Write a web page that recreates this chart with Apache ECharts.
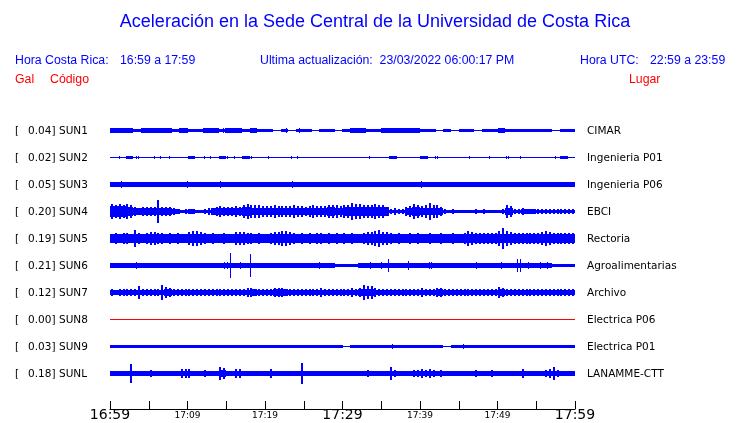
<!DOCTYPE html>
<html><head><meta charset="utf-8">
<script src="https://cdn.jsdelivr.net/npm/echarts@6/dist/echarts.min.js"></script>
<style>html,body{margin:0;padding:0;background:#fff}#c{width:740px;height:423px}</style>
</head><body><div id="c"></div>
<script>
// ---- data ----
const stations = ['SUN1','SUN2','SUN3','SUN4','SUN5','SUN6','SUN7','SUN8','SUN9','SUNL'];
const places = ['CIMAR','Ingenieria P01','Ingenieria P06','EBCI','Rectoria','Agroalimentarias','Archivo','Electrica P06','Electrica P01','LANAMME-CTT'];
const peakGal = ['0.04','0.02','0.05','0.20','0.19','0.21','0.12','0.00','0.03','0.18'];
const timeLabels = {0:'16:59',10:'17:09',20:'17:19',30:'17:29',40:'17:39',50:'17:49',60:'17:59'};

// solid core half-amplitude (Gal) per minute, minute 0 = 16:59
const baseSUN1 = [.03,.03,.03,.015,.03,.03,.028,.028,.025,.03,.018,.025,.03,.03,.025,.032,.028,.025,.028,.025,
  .012,.008,.018,.008,.018,.01,.008,.018,.015,.008,.018,.03,.03,.018,.02,.03,.032,.03,.028,.03,
  .025,.015,.008,.015,.008,.012,.015,.008,.012,.025,.028,.025,.018,.018,.02,.015,.018,.008,.012,.025];
const baseSUN2 = [.004,.004,.015,.004,.004,.004,.004,.004,.004,.004,.012,.004,.004,.004,.018,.004,.004,.015,.004,.004,
  .004,.004,.004,.004,.004,.004,.004,.004,.004,.004,.004,.004,.004,.004,.004,.004,.012,.004,.004,.004,
  .015,.004,.004,.004,.004,.004,.004,.004,.004,.004,.004,.004,.004,.004,.004,.004,.004,.004,.015,.004];
const baseSUN3 = [.03,.03,.03,.032,.03,.03,.03,.03,.03,.03,.032,.03,.03,.03,.032,.03,.03,.03,.03,.03,
  .03,.03,.03,.03,.03,.03,.03,.03,.03,.03,.03,.03,.03,.03,.03,.03,.03,.03,.03,.03,
  .032,.03,.03,.03,.03,.03,.03,.03,.03,.03,.03,.03,.03,.03,.03,.03,.03,.03,.03,.03];
const baseSUN4 = [.085,.09,.08,.055,.05,.055,.05,.05,.045,.022,.03,.022,.022,.05,.055,.06,.055,.065,.06,.06,
  .06,.055,.06,.06,.06,.055,.06,.06,.065,.06,.07,.08,.075,.07,.07,.065,.025,.025,.055,.065,
  .06,.06,.05,.022,.022,.022,.022,.022,.022,.022,.022,.055,.025,.03,.03,.025,.025,.025,.025,.025];
const baseSUN5 = [.065,.065,.065,.065,.065,.065,.065,.065,.065,.065,.08,.08,.065,.065,.065,.065,.075,.075,.065,.065,
  .065,.08,.08,.065,.065,.065,.065,.065,.065,.065,.065,.065,.065,.08,.08,.08,.065,.065,.065,.065,
  .065,.065,.065,.065,.065,.065,.08,.065,.065,.065,.08,.08,.065,.065,.065,.065,.08,.065,.065,.065];
const baseSUN6 = [.03,.03,.03,.03,.03,.03,.03,.03,.03,.03,.03,.03,.03,.03,.03,.033,.03,.03,.03,.03,
  .03,.03,.03,.03,.03,.03,.03,.03,.03,.018,.022,.022,.03,.03,.03,.03,.03,.03,.03,.03,
  .03,.03,.03,.03,.03,.03,.03,.03,.03,.03,.03,.03,.03,.03,.03,.03,.03,.018,.025,.025];
const baseSUN7 = [.042,.042,.042,.042,.045,.045,.042,.06,.042,.042,.042,.042,.042,.042,.042,.042,.042,.045,.05,.042,
  .042,.055,.05,.042,.042,.042,.042,.045,.042,.042,.045,.045,.06,.06,.045,.042,.042,.042,.042,.042,
  .045,.042,.05,.042,.042,.042,.042,.042,.042,.042,.05,.042,.042,.042,.042,.042,.042,.042,.042,.042];
const baseSUN8 = [0,0,0,0,0,0,0,0,0,0,0,0,0,0,0,0,0,0,0,0,0,0,0,0,0,0,0,0,0,0,
  0,0,0,0,0,0,0,0,0,0,0,0,0,0,0,0,0,0,0,0,0,0,0,0,0,0,0,0,0,0];
const baseSUN9 = [.025,.025,.025,.025,.025,.025,.025,.025,.025,.025,.025,.025,.025,.025,.025,.025,.025,.025,.025,.025,
  .025,.02,.015,.02,.012,.02,.015,.02,.02,.012,.008,.02,.022,.02,.022,.022,.02,.015,.022,.02,
  .022,.02,.012,.008,.02,.022,.02,.022,.015,.02,.012,.022,.02,.015,.02,.012,.02,.022,.02,.022];
const baseSUNL = [.03,.03,.03,.03,.03,.032,.03,.03,.03,.045,.04,.03,.032,.03,.05,.03,.045,.03,.03,.03,
  .03,.03,.03,.03,.03,.03,.03,.03,.03,.03,.03,.03,.03,.035,.03,.03,.035,.03,.03,.035,
  .045,.035,.03,.03,.03,.03,.03,.03,.03,.03,.03,.03,.03,.035,.03,.03,.035,.045,.03,.03];

// peak excursion (Gal) in each half minute
const fringeSUN4 = [.12,.1,.13,.11,.13,.1,.07,.06,.08,.065,.07,.065,.2,.07,.07,.065,.06,.035,.025,.03,
  .04,.04,.025,.025,.03,.06,.06,.07,.09,.075,.08,.07,.09,.08,.1,.13,.11,.1,.1,.09,
  .09,.085,.1,.09,.085,.09,.09,.1,.09,.085,.08,.09,.1,.09,.085,.09,.1,.11,.11,.09,
  .1,.11,.15,.12,.13,.11,.11,.1,.12,.1,.1,.07,.035,.05,.03,.04,.08,.09,.12,.1,
  .09,.1,.14,.1,.1,.07,.03,.025,.04,.025,.025,.025,.025,.025,.035,.025,.04,.025,.025,.025,
  .025,.03,.1,.09,.04,.03,.05,.045,.045,.04,.03,.035,.03,.04,.04,.03,.03,.03,.03,.03];
const fringeSUN5 = [.08,.085,.08,.09,.085,.08,.15,.09,.08,.085,.11,.1,.09,.085,.08,.085,.08,.085,.075,.08,
  .1,.13,.12,.1,.09,.08,.085,.08,.08,.085,.075,.08,.1,.11,.1,.09,.085,.08,.085,.08,
  .08,.085,.1,.11,.13,.12,.1,.085,.08,.085,.08,.085,.08,.085,.09,.08,.085,.08,.085,.08,
  .085,.08,.085,.08,.08,.085,.1,.11,.12,.15,.11,.1,.085,.08,.085,.08,.08,.085,.08,.085,
  .08,.08,.085,.08,.08,.085,.08,.08,.085,.08,.08,.085,.13,.11,.09,.085,.085,.085,.085,.09,
  .12,.19,.13,.1,.085,.09,.085,.085,.09,.085,.085,.11,.13,.11,.095,.085,.09,.085,.085,.085];
const fringeSUN7 = [.05,.045,.055,.05,.05,.05,.055,.11,.06,.055,.06,.055,.055,.12,.09,.07,.055,.05,.05,.05,
  .05,.055,.055,.05,.05,.05,.05,.055,.05,.05,.05,.05,.055,.05,.06,.065,.065,.06,.055,.05,
  .05,.055,.075,.07,.065,.055,.05,.05,.055,.05,.05,.05,.05,.055,.07,.06,.05,.05,.05,.055,
  .06,.055,.065,.06,.075,.12,.1,.1,.07,.06,.055,.055,.055,.05,.06,.055,.055,.05,.05,.055,
  .065,.06,.055,.05,.065,.07,.055,.05,.05,.05,.055,.05,.05,.05,.055,.05,.05,.05,.05,.055,
  .09,.065,.05,.05,.055,.05,.05,.05,.055,.05,.05,.05,.05,.055,.055,.05,.05,.05,.055,.05];
const fringeSUNL = [.03,.035,.04,.035,.035,.17,.04,.035,.04,.035,.055,.04,.035,.035,.04,.045,.035,.035,.08,.07,
  .07,.045,.035,.04,.055,.04,.035,.04,.1,.09,.04,.035,.07,.07,.035,.035,.035,.04,.035,.04,
  .04,.065,.035,.035,.035,.035,.035,.04,.035,.18,.035,.035,.045,.035,.035,.035,.045,.035,.035,.035,
  .035,.035,.035,.04,.035,.04,.05,.045,.035,.035,.04,.035,.1,.05,.04,.035,.035,.035,.05,.055,
  .07,.06,.08,.05,.04,.055,.035,.04,.035,.035,.04,.035,.04,.045,.05,.04,.04,.045,.05,.04,
  .04,.035,.04,.035,.035,.04,.065,.045,.035,.035,.04,.035,.055,.065,.11,.06,.04,.035,.035,.035];

// isolated peaks: [minute, half-amplitude Gal]
const spikesSUN1 = [[9.0,.045],[14.6,.04],[14.9,.045],[15.2,.04],[36.2,.04],[22.8,.03],[24.4,.03],[27.5,.025],[30.0,.025],[33.8,.025],[45.6,.02],[53.8,.025],[55.8,.025],[59.3,.025]];
const spikesSUN2 = [[1.2,.015],[3.4,.015],[3.7,.012],[5.8,.01],[6.5,.01],[7.7,.015],[12.2,.012],[13.0,.012],[15.2,.012],[16.0,.015],[18.2,.012],[20.5,.012],[23.4,.012],[24.2,.01],[33.5,.015],[42.0,.012],[42.3,.015],[46.4,.012],[49.0,.01],[51.1,.012],[51.4,.015],[53.0,.01],[57.5,.01],[58.1,.012],[59.0,.02]];
const spikesSUN3 = [[1.5,.05],[2.5,.045],[3.4,.045],[7.0,.04],[10.0,.05],[12.2,.04],[12.6,.045],[13.5,.04],[14.2,.05],[16.0,.04],[17.4,.04],[20.5,.04],[23.6,.05],[32.3,.045],[33.5,.045],[40.2,.05],[41.5,.04],[42.3,.045],[46.4,.04],[49.0,.045],[52.0,.045],[58.2,.04]];
const spikesSUN4 = [];
const spikesSUN5 = [];
const spikesSUN6 = [[3.4,.05],[5.8,.045],[7.0,.045],[7.3,.045],[9.5,.04],[10.0,.045],[11.0,.04],[12.4,.045],[14.8,.06],[15.1,.06],[15.5,.21],[16.8,.05],[18.1,.2],[19.5,.045],[22.0,.045],[23.4,.045],[24.3,.045],[26.5,.045],[27.0,.05],[28.0,.045],[33.6,.05],[35.0,.06],[35.9,.1],[38.5,.065],[41.2,.06],[41.5,.06],[47.3,.05],[50.5,.05],[52.6,.1],[53.0,.1],[54.0,.05],[55.5,.05],[56.4,.05]];
const spikesSUN7 = [];
const spikesSUN8 = [];
const spikesSUN9 = [[45.6,.03],[36.5,.028]];
const spikesSUNL = [];

const bases = [baseSUN1,baseSUN2,baseSUN3,baseSUN4,baseSUN5,baseSUN6,baseSUN7,baseSUN8,baseSUN9,baseSUNL];
const fringes = [[],[],[],fringeSUN4,fringeSUN5,[],fringeSUN7,[],[],fringeSUNL];
const spikes = [spikesSUN1,spikesSUN2,spikesSUN3,spikesSUN4,spikesSUN5,spikesSUN6,spikesSUN7,spikesSUN8,spikesSUN9,spikesSUNL];

// ---- drawing ----
const GAL_PER_SLOT = 0.49;
const K = 1 / GAL_PER_SLOT;
const chart = echarts.init(document.getElementById('c'), null, {renderer: 'canvas'});

function renderBand(params, api) {
  const m = api.value(0), a = api.value(1), c = api.value(2);
  const pL = api.coord([m, c]), pR = api.coord([m + 1, c]);
  const ah = api.size([0, a * K])[1];
  const x0 = Math.round(pL[0]), x1 = Math.round(pR[0]);
  const top = Math.round(pL[1] - 0.5 - ah), bot = Math.round(pL[1] + 0.5 + ah);
  return {type: 'rect', shape: {x: x0, y: top, width: x1 - x0, height: Math.max(1, bot - top)},
    style: {fill: api.visual('color')}};
}
function makeSpikeRenderer(w) {
  return function (params, api) {
    const m = api.value(0), a = api.value(1), c = api.value(2);
    const p = api.coord([m, c]);
    const ah = api.size([0, a * K])[1];
    const top = Math.round(p[1] - 0.5 - ah), bot = Math.round(p[1] + 0.5 + ah);
    return {type: 'rect', shape: {x: Math.round(p[0] - w / 2), y: top, width: w, height: bot - top},
      style: {fill: api.visual('color')}};
  };
}
const lblFont = '10.5px "DejaVu Sans"';
function renderLabels(params, api) {
  const k = api.value(0);
  const p = api.coord([0, -k]);
  const y = p[1] + 0.5;
  const mk = (x, text) => ({type: 'text', x: x, y: y,
    style: {text: text, fill: '#000', font: lblFont, align: 'left', verticalAlign: 'middle'}});
  return {type: 'group', children: [
    mk(15, '['), mk(28, peakGal[k] + ']'), mk(59, stations[k]), mk(587, places[k])
  ]};
}

const series = [];
stations.forEach((s, k) => {
  const col = s === 'SUN8' ? '#ff0000' : '#0000ff';
  series.push({type: 'custom', name: s + ' band', renderItem: renderBand, itemStyle: {color: col},
    data: bases[k].map((a, m) => [m, a, -k]), silent: true, animation: false});
  series.push({type: 'custom', name: s + ' fringe', renderItem: makeSpikeRenderer(2), itemStyle: {color: col},
    data: fringes[k].map((a, i) => [i * 0.5 + 0.25, a, -k]), silent: true, animation: false});
  series.push({type: 'custom', name: s + ' peaks', renderItem: makeSpikeRenderer(1), itemStyle: {color: col},
    data: spikes[k].map(d => [d[0], d[1], -k]), silent: true, animation: false});
});
series.push({type: 'custom', name: 'labels', renderItem: renderLabels, clip: false,
  data: stations.map((s, k) => [k]), silent: true, animation: false});

const hdrFont = '12.3px "Liberation Sans"';
const hdr = (x, y, text, fill) => ({type: 'text', x: x, y: y,
  style: {text: text, fill: fill, font: hdrFont, align: 'left', verticalAlign: 'middle'}});

chart.setOption({
  animation: false,
  grid: {left: 110, right: 165, top: 117, height: 292},
  xAxis: {type: 'value', min: 0, max: 60, interval: 5,
    axisLine: {show: true, onZero: false, lineStyle: {color: '#000', width: 1}},
    axisTick: {show: true, inside: true, length: 8, lineStyle: {color: '#000'}},
    splitLine: {show: false},
    axisLabel: {margin: 6.5, verticalAlign: 'middle', color: '#000', fontFamily: 'DejaVu Sans',
      formatter: v => {
        const t = timeLabels[v];
        if (t === undefined) return '';
        return v % 30 === 0 ? '{b|' + t + '}' : '{s|' + t + '}';
      },
      rich: {b: {fontSize: 14, fontFamily: 'DejaVu Sans', color: '#000'},
             s: {fontSize: 9, fontFamily: 'DejaVu Sans', color: '#000'}}}},
  yAxis: {type: 'value', min: -10.315, max: 0.5, show: false},
  graphic: [
    {type: 'text', x: 375, y: 22, style: {text: 'Aceleración en la Sede Central de la Universidad de Costa Rica',
      fill: '#0000ff', font: '18px "Liberation Sans"', align: 'center', verticalAlign: 'middle'}},
    hdr(15, 61, 'Hora Costa Rica:', '#0000ff'),
    hdr(120, 61, '16:59 a 17:59', '#0000ff'),
    hdr(260, 61, 'Ultima actualización:  23/03/2022 06:00:17 PM', '#0000ff'),
    hdr(580, 61, 'Hora UTC:', '#0000ff'),
    hdr(650, 61, '22:59 a 23:59', '#0000ff'),
    hdr(15, 80, 'Gal', '#ff0000'),
    hdr(50, 80, 'Código', '#ff0000'),
    hdr(629, 80, 'Lugar', '#ff0000')
  ],
  series: series
});
</script></body></html>
